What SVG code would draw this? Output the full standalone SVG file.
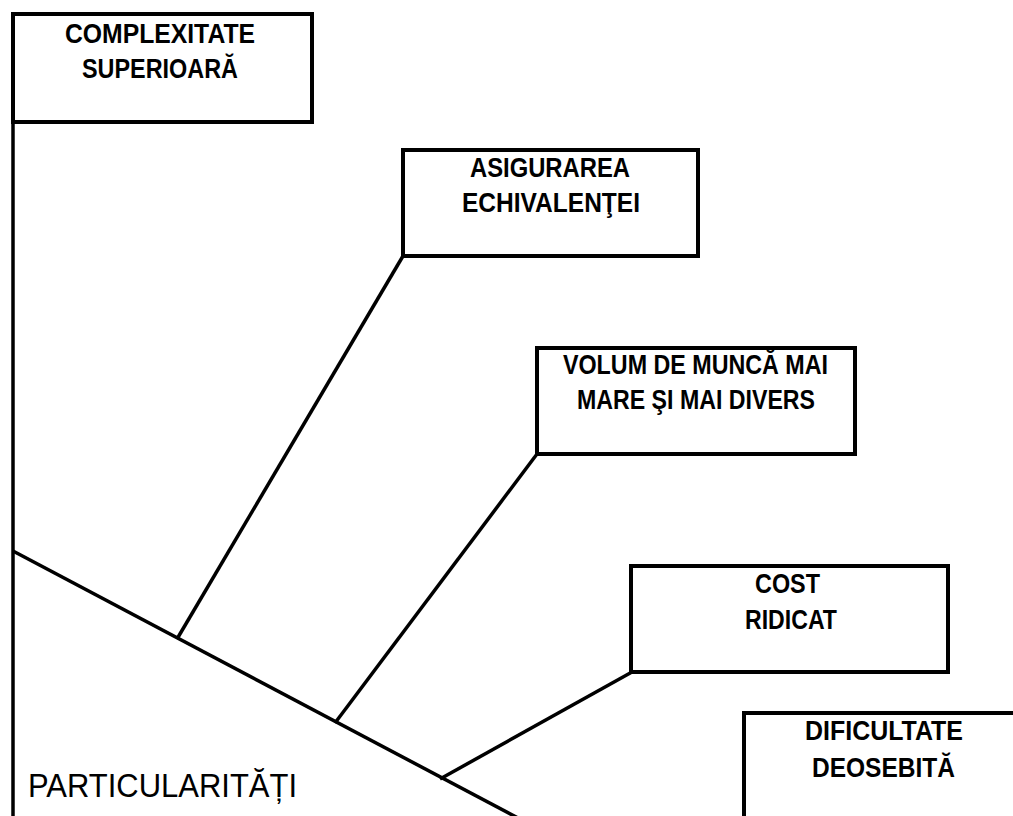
<svg xmlns="http://www.w3.org/2000/svg" width="1013" height="816" viewBox="0 0 1013 816">
<style>
.box{fill:#fff;stroke:#000;stroke-width:4}
.ln{stroke:#000;stroke-width:3.5;fill:none;stroke-linecap:butt}
.t{font-family:"Liberation Sans",Arial,sans-serif;font-weight:bold;font-size:27px;fill:#000;text-anchor:middle}
.big{font-family:"Liberation Sans",Arial,sans-serif;font-size:33px;fill:#000}
</style>
<rect width="1013" height="816" fill="#fff"/>
<g id="connectors">
<line class="ln" x1="13" y1="14" x2="13" y2="816"/>
<line class="ln" x1="13" y1="551" x2="518" y2="818"/>
<line class="ln" x1="177" y1="639" x2="403" y2="256"/>
<line class="ln" x1="335" y1="723" x2="537" y2="454"/>
<line class="ln" x1="440" y1="779" x2="632" y2="672"/>
</g>
<g id="n1"><rect class="box" x="13" y="14" width="299" height="108"/>
<text class="t" x="160" y="43" textLength="190" lengthAdjust="spacingAndGlyphs">COMPLEXITATE</text><text class="t" x="160" y="78" textLength="156" lengthAdjust="spacingAndGlyphs">SUPERIOARĂ</text></g>
<g id="n2"><rect class="box" x="403" y="150" width="295" height="106"/>
<text class="t" x="550" y="177" textLength="160" lengthAdjust="spacingAndGlyphs">ASIGURAREA</text><text class="t" x="551" y="212" textLength="178" lengthAdjust="spacingAndGlyphs">ECHIVALENŢEI</text></g>
<g id="n3"><rect class="box" x="537" y="348" width="318" height="106"/>
<text class="t" x="695.5" y="374" textLength="265" lengthAdjust="spacingAndGlyphs">VOLUM DE MUNCĂ MAI</text><text class="t" x="696" y="409" textLength="238" lengthAdjust="spacingAndGlyphs">MARE ŞI MAI DIVERS</text></g>
<g id="n4"><rect class="box" x="631" y="566" width="317" height="106"/>
<text class="t" x="787.5" y="593" textLength="65" lengthAdjust="spacingAndGlyphs">COST</text><text class="t" x="791" y="629" textLength="92" lengthAdjust="spacingAndGlyphs">RIDICAT</text></g>
<g id="n5"><rect class="box" x="744" y="713" width="300" height="150"/>
<text class="t" x="884" y="740" textLength="158" lengthAdjust="spacingAndGlyphs">DIFICULTATE</text><text class="t" x="883.5" y="777" textLength="143" lengthAdjust="spacingAndGlyphs">DEOSEBITĂ</text></g>
<g id="label"><text class="big" x="28" y="797" textLength="269" lengthAdjust="spacingAndGlyphs">PARTICULARITĂȚI</text></g>
</svg>
